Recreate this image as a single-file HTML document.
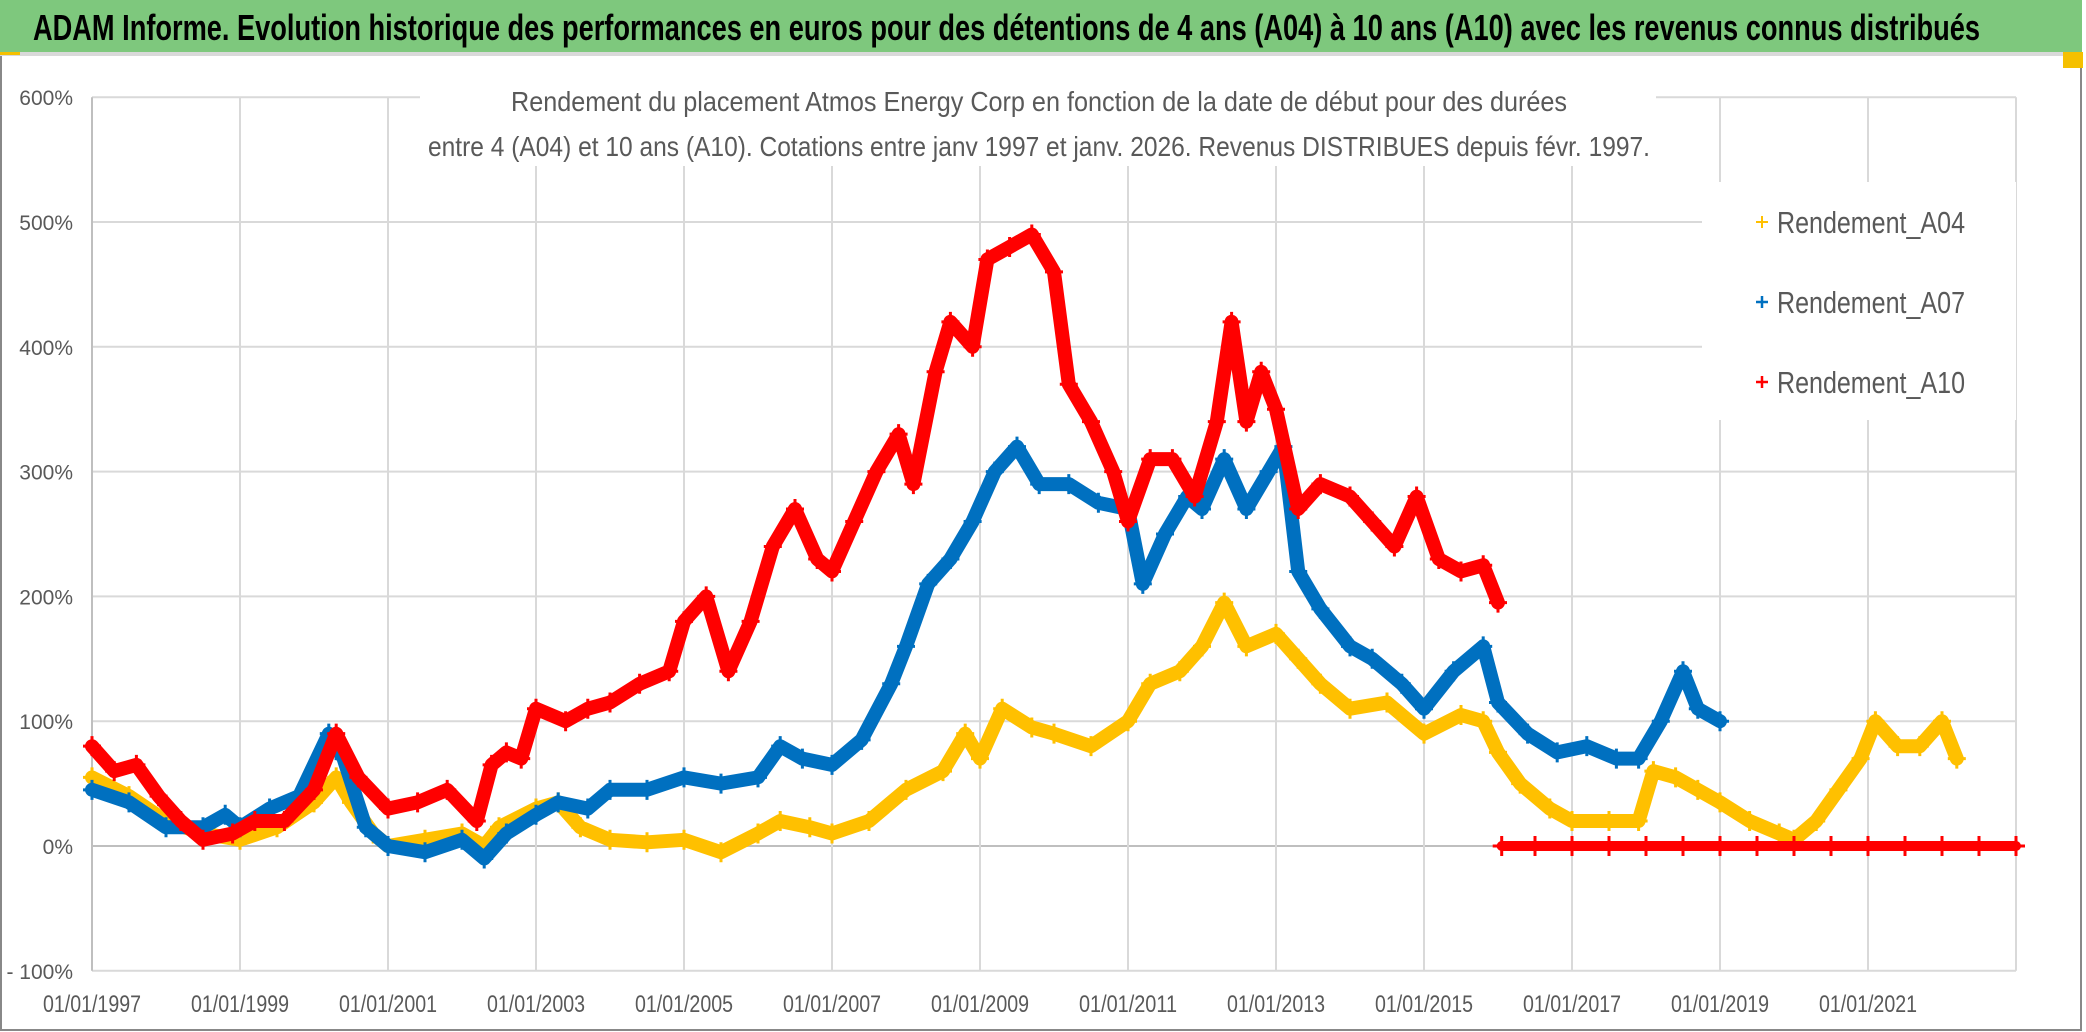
<!DOCTYPE html>
<html><head><meta charset="utf-8"><style>
html,body{margin:0;padding:0;background:#fff;}
svg{display:block;}
</style></head><body>
<svg id="chart" width="2086" height="1032" viewBox="0 0 2086 1032" xmlns="http://www.w3.org/2000/svg">
<rect x="0" y="0" width="2086" height="1032" fill="#fff"/>
<rect x="1" y="1" width="2080" height="1029" fill="none" stroke="#888" stroke-width="2"/>
<rect x="0" y="0" width="2082" height="52" fill="#7ec87d"/>
<rect x="0" y="52" width="2082" height="4" fill="#d9d9d9"/>
<rect x="0" y="52" width="20" height="3" fill="#f5c000"/>
<rect x="2063" y="52" width="20" height="16" fill="#f5c000"/>
<text x="33" y="40" textLength="1947" lengthAdjust="spacingAndGlyphs" font-family="Liberation Sans, sans-serif" font-weight="bold" font-size="36" fill="#000">ADAM Informe. Evolution historique des performances en euros pour des détentions de 4 ans (A04) à 10 ans (A10) avec les revenus connus distribués</text>
<g id="grid"></g>
<g id="series"></g>
<rect x="420" y="70" width="1236" height="96" fill="#fff"/>
<text x="511" y="111" textLength="1056" lengthAdjust="spacingAndGlyphs" font-family="Liberation Sans, sans-serif" font-size="28" fill="#595959">Rendement du placement Atmos Energy Corp en fonction de la date de début pour des durées</text>
<text x="428" y="156" textLength="1222" lengthAdjust="spacingAndGlyphs" font-family="Liberation Sans, sans-serif" font-size="28" fill="#595959">entre 4 (A04) et 10 ans (A10). Cotations entre janv 1997 et janv. 2026. Revenus DISTRIBUES depuis févr. 1997.</text>
<rect x="1702" y="182" width="314" height="238" fill="#fff"/>
<g>
<path d="M1756 222h12M1762 216v12" stroke="#ffc000" stroke-width="2"/>
<text x="1777" y="233" textLength="188" lengthAdjust="spacingAndGlyphs" font-family="Liberation Sans, sans-serif" font-size="31" fill="#595959">Rendement_A04</text>
</g>
<g>
<path d="M1756 302h12M1762 296v12" stroke="#0070c0" stroke-width="2.5"/>
<text x="1777" y="313" textLength="188" lengthAdjust="spacingAndGlyphs" font-family="Liberation Sans, sans-serif" font-size="31" fill="#595959">Rendement_A07</text>
</g>
<g>
<path d="M1756 382h12M1762 376v12" stroke="#ff0000" stroke-width="2.5"/>
<text x="1777" y="393" textLength="188" lengthAdjust="spacingAndGlyphs" font-family="Liberation Sans, sans-serif" font-size="31" fill="#595959">Rendement_A10</text>
</g>
<g id="labels"></g>
</svg>
<script>
const yTicks = [-100, 0, 100, 200, 300, 400, 500, 600];
const yTickLabels = ["- 100%", "0%", "100%", "200%", "300%", "400%", "500%", "600%"];
const xTicks = [1997, 1999, 2001, 2003, 2005, 2007, 2009, 2011, 2013, 2015, 2017, 2019, 2021, 2023];
const xTickLabels = ["01/01/1997","01/01/1999","01/01/2001","01/01/2003","01/01/2005","01/01/2007","01/01/2009","01/01/2011","01/01/2013","01/01/2015","01/01/2017","01/01/2019","01/01/2021",""];

const a04Dates = [1997.0,1997.5,1998.0,1998.5,1999.0,1999.5,2000.0,2000.3,2000.5,2000.8,2001.0,2001.5,2002.0,2002.3,2002.5,2003.0,2003.3,2003.6,2004.0,2004.5,2005.0,2005.5,2006.0,2006.3,2006.7,2007.0,2007.5,2008.0,2008.5,2008.8,2009.0,2009.3,2009.7,2010.0,2010.5,2011.0,2011.3,2011.7,2012.0,2012.3,2012.6,2013.0,2013.3,2013.6,2014.0,2014.5,2015.0,2015.5,2015.8,2016.0,2016.3,2016.7,2017.0,2017.5,2017.9,2018.1,2018.4,2018.7,2019.0,2019.4,2019.8,2020.0,2020.3,2020.6,2020.9,2021.1,2021.4,2021.7,2022.0,2022.2];
const a04Values = [55,40,20,10,5,15,35,55,35,10,0,5,10,0,15,30,35,15,5,3,5,-5,10,20,15,10,20,45,60,90,70,110,95,90,80,100,130,140,160,195,160,170,150,130,110,115,90,105,100,75,50,30,20,20,20,60,55,45,35,20,10,5,20,45,70,100,80,80,100,70];

const a07Dates = [1997.0,1997.5,1998.0,1998.5,1998.8,1999.0,1999.4,1999.8,2000.2,2000.4,2000.7,2001.0,2001.5,2002.0,2002.3,2002.6,2003.0,2003.3,2003.7,2004.0,2004.5,2005.0,2005.5,2006.0,2006.3,2006.6,2007.0,2007.4,2007.8,2008.0,2008.3,2008.6,2008.9,2009.2,2009.5,2009.8,2010.2,2010.6,2011.0,2011.2,2011.5,2011.8,2012.0,2012.3,2012.6,2012.9,2013.1,2013.3,2013.6,2014.0,2014.3,2014.7,2015.0,2015.4,2015.8,2016.0,2016.4,2016.8,2017.2,2017.6,2017.9,2018.2,2018.5,2018.7,2019.0];
const a07Values = [45,35,15,15,25,15,30,40,90,70,15,0,-5,5,-10,10,25,35,30,45,45,55,50,55,80,70,65,85,130,160,210,230,260,300,320,290,290,275,270,210,250,280,270,310,270,300,320,220,190,160,150,130,110,140,160,115,90,75,80,70,70,100,140,110,100];

const a10Dates = [1997.0,1997.3,1997.6,1997.9,1998.2,1998.5,1998.9,1999.2,1999.6,2000.0,2000.3,2000.6,2001.0,2001.4,2001.8,2002.2,2002.4,2002.6,2002.8,2003.0,2003.4,2003.7,2004.0,2004.4,2004.8,2005.0,2005.3,2005.6,2005.9,2006.2,2006.5,2006.8,2007.0,2007.3,2007.6,2007.9,2008.1,2008.4,2008.6,2008.9,2009.1,2009.4,2009.7,2010.0,2010.2,2010.5,2010.8,2011.0,2011.3,2011.6,2011.9,2012.2,2012.4,2012.6,2012.8,2013.0,2013.3,2013.6,2014.0,2014.3,2014.6,2014.9,2015.2,2015.5,2015.8,2016.0];
const a10Values = [80,60,65,40,20,5,10,20,20,45,90,55,30,35,45,20,65,75,70,110,100,110,115,130,140,180,200,140,180,240,270,230,220,260,300,330,290,380,420,400,470,480,490,460,370,340,300,260,310,310,280,340,420,340,380,350,270,290,280,260,240,280,230,220,225,195];

const zeroDates = [2016.05,2016.5,2017.0,2017.5,2018.0,2018.5,2019.0,2019.5,2020.0,2020.5,2021.0,2021.5,2022.0,2022.5,2023.0];
const zeroValues = [0,0,0,0,0,0,0,0,0,0,0,0,0,0,0];

const NS = "http://www.w3.org/2000/svg";
const X0 = 92, X1 = 2016, Y0 = 846, PX_YEAR = 74, PX_PCT = 1.248;
function xs(year){ return X0 + (year - 1997) * PX_YEAR; }
function ys(p){ return Y0 - p * PX_PCT; }
function mk(tag, attrs, parent){ const e = document.createElementNS(NS, tag); for (const k in attrs) e.setAttribute(k, attrs[k]); parent.appendChild(e); return e; }

const grid = document.getElementById('grid');
const labels = document.getElementById('labels');
yTicks.forEach((t, i) => {
  const l = mk('line', {x1: X0, x2: X1, y1: ys(t), y2: ys(t), stroke: t === 0 ? '#bfbfbf' : '#d9d9d9', 'stroke-width': 2}, grid);
  
  
  const tx = mk('text', {x: 73, y: ys(t) + 8, 'text-anchor': 'end', 'font-family': 'Liberation Sans, sans-serif', 'font-size': 21, fill: '#595959'}, labels);
  tx.textContent = yTickLabels[i];
  
  
});
xTicks.forEach((t, i) => {
  const l = mk('line', {x1: xs(t), x2: xs(t), y1: ys(600), y2: ys(-100), stroke: i === 0 ? '#bfbfbf' : '#d9d9d9', 'stroke-width': 2}, grid);
  
  
  if (xTickLabels[i]) {
    const tx = mk('text', {x: xs(t), y: 1012, 'text-anchor': 'middle', 'font-family': 'Liberation Sans, sans-serif', 'font-size': 24, fill: '#595959', textLength: 98, lengthAdjust: 'spacingAndGlyphs'}, labels);
    tx.textContent = xTickLabels[i];
    
    
  }
});

const seriesG = document.getElementById('series');
function drawSeries(dates, vals, color, width, name){
  const g = mk('g', {}, seriesG);
  
  
  const pts = dates.map((d, i) => xs(d).toFixed(1) + ',' + ys(vals[i]).toFixed(1)).join(' ');
  const pl = mk('polyline', {points: pts, fill: 'none', stroke: color, 'stroke-width': width, 'stroke-linejoin': 'round', 'stroke-linecap': 'round'}, g);
  
  
  dates.forEach((d, i) => {
    const x = xs(d), y = ys(vals[i]);
    const m = mk('path', {d: `M${x-9} ${y}h18M${x} ${y-10}v20`, stroke: color, 'stroke-width': 3}, g);
    
    
  });
}
drawSeries(a04Dates, a04Values, '#ffc000', 14, 'series-a04');
drawSeries(a07Dates, a07Values, '#0070c0', 14, 'series-a07');
drawSeries(a10Dates, a10Values, '#ff0000', 14, 'series-a10');
drawSeries(zeroDates, zeroValues, '#ff0000', 10, 'series-a10-zero');
</script>
</body></html>
